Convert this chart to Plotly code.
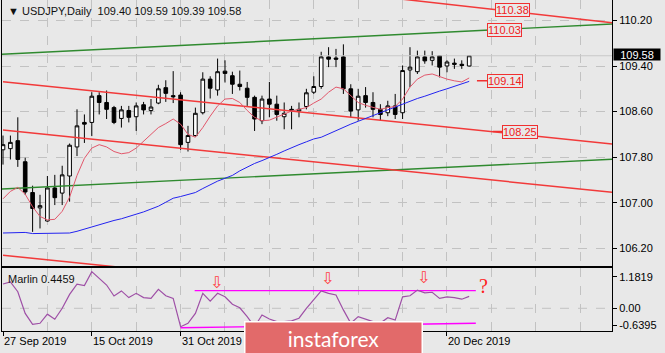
import plotly.graph_objects as go

# ---------------- data ----------------
opens = [107.93, 107.95, 108.09, 107.72, 107.18, 106.91, 106.68, 107.26, 107.17, 107.47,
         107.98, 108.41, 108.41, 108.88, 108.76, 108.67, 108.48, 108.62, 108.51, 108.72,
         108.62, 108.75, 109.02, 108.88, 108.89, 108.06, 108.18, 108.58, 109.17, 108.98,
         109.31, 109.23, 109.08, 109.01, 108.85, 108.44, 108.82, 108.73, 108.51, 108.64,
         108.61, 108.69, 108.94, 109.04, 109.56, 109.54, 109.56, 109.00, 108.63, 108.88,
         108.76, 108.64, 108.58, 108.70, 108.58, 109.33, 109.30, 109.56, 109.50, 109.58,
         109.40, 109.45, 109.43, 109.40]
highs = [108.18, 108.18, 108.50, 107.79, 107.30, 107.14, 107.47, 107.49, 107.65, 108.04,
         108.64, 108.55, 108.94, 108.94, 108.97, 108.70, 108.70, 108.70, 108.76, 108.77,
         108.82, 109.07, 109.15, 109.31, 108.94, 108.35, 108.67, 109.29, 109.22, 109.53,
         109.50, 109.30, 109.32, 109.12, 108.88, 108.88, 109.12, 108.88, 108.76, 108.70,
         108.76, 109.00, 109.22, 109.65, 109.73, 109.70, 109.78, 109.08, 109.00, 109.03,
         108.94, 108.73, 108.79, 108.91, 109.41, 109.73, 109.67, 109.67, 109.66, 109.59,
         109.50, 109.53, 109.50, 109.59]
lows = [107.67, 107.76, 107.63, 107.14, 106.49, 106.55, 106.67, 106.96, 106.96, 107.02,
        107.82, 108.05, 108.17, 108.55, 108.47, 108.38, 108.32, 108.41, 108.26, 108.55,
        108.55, 108.73, 108.77, 108.75, 107.93, 107.90, 108.16, 108.55, 108.83, 108.88,
        109.11, 108.91, 108.97, 108.70, 108.26, 108.38, 108.50, 108.44, 108.29, 108.29,
        108.50, 108.64, 108.91, 109.00, 109.38, 109.38, 108.91, 108.50, 108.44, 108.67,
        108.50, 108.44, 108.52, 108.47, 108.47, 109.03, 109.26, 109.44, 109.41, 109.20,
        109.29, 109.35, 109.35, 109.39]
closes = [108.02, 108.06, 107.76, 107.19, 106.90, 106.95, 107.26, 107.09, 107.49, 108.01,
          108.35, 108.38, 108.87, 108.76, 108.64, 108.41, 108.63, 108.50, 108.70, 108.63,
          108.68, 109.00, 108.92, 108.86, 108.02, 108.18, 108.57, 109.17, 109.01, 109.30,
          109.27, 109.08, 109.04, 108.85, 108.47, 108.82, 108.73, 108.55, 108.57, 108.61,
          108.64, 108.93, 109.04, 109.56, 109.52, 109.52, 109.00, 108.61, 108.87, 108.76,
          108.64, 108.55, 108.70, 108.55, 109.32, 109.38, 109.56, 109.49, 109.56, 109.38,
          109.47, 109.43, 109.41, 109.58]

ma_fast = [107.07, 107.20, 107.27, 107.15, 106.93, 106.76, 106.70, 106.71, 106.85, 107.10,
           107.48, 107.78, 107.96, 108.02, 107.98, 107.90, 107.86, 107.88, 107.96, 108.08,
           108.20, 108.32, 108.39, 108.47, 108.38, 108.20, 108.15, 108.32, 108.52, 108.70,
           108.82, 108.83, 108.76, 108.62, 108.50, 108.44, 108.45, 108.50, 108.55, 108.61,
           108.64, 108.67, 108.75, 108.82, 108.94, 109.03, 109.00, 108.88, 108.76, 108.71,
           108.67, 108.64, 108.67, 108.69, 108.82, 109.03, 109.17, 109.24, 109.26, 109.21,
           109.17, 109.14, 109.12, 109.19]
ma_slow = [106.47, 106.47, 106.48, 106.48, 106.46, 106.46, 106.46, 106.46, 106.47, 106.47,
           106.50, 106.54, 106.58, 106.62, 106.66, 106.69, 106.72, 106.76, 106.79, 106.84,
           106.89, 106.94, 107.01, 107.08, 107.11, 107.14, 107.18, 107.25, 107.32, 107.38,
           107.43, 107.48, 107.56, 107.63, 107.69, 107.74, 107.79, 107.85, 107.91, 107.97,
           108.02, 108.07, 108.12, 108.15, 108.21, 108.27, 108.33, 108.38, 108.43, 108.48,
           108.53, 108.59, 108.63, 108.68, 108.73, 108.78, 108.83, 108.87, 108.92, 108.96,
           109.00, 109.04, 109.08, 109.13]

marlin = [0.91, 0.99, 0.62, -0.19, -0.60, -0.56, -0.22, -0.41, 0.00, 0.52,
          0.90, 0.85, 1.37, 1.12, 0.87, 0.46, 0.65, 0.40, 0.56, 0.40,
          0.37, 0.71, 0.47, 0.37, -0.69, -0.56, -0.19, 0.56, 0.27, 0.56,
          0.43, 0.15, 0.02, -0.31, -0.69, -0.25, -0.40, -0.50, -0.50, -0.47,
          -0.37, 0.00, 0.31, 0.65, 0.56, 0.50, -0.06, -0.56, -0.31, -0.41,
          -0.50, -0.55, -0.35, -0.44, 0.43, 0.47, 0.68, 0.58, 0.60, 0.37,
          0.43, 0.40, 0.34, 0.4459]

# trend lines: [x0, y0, x1, y1] in bar index / price
red_lines = [[50.0, 110.63, 82.3, 110.16],
             [0.0, 109.125, 82.3, 108.032],
             [0.0, 108.277, 82.3, 107.184],
             [0.0, 106.079, 82.3, 104.986]]
green_lines = [[-0.2, 109.605, 82.3, 110.137],
               [-0.2, 107.242, 82.3, 107.763]]
marlin_levels = [[25.9, 0.66, 63.9, 0.66],
                 [24.0, -0.73, 63.9, -0.56]]

price_ticks = [110.20, 109.40, 108.60, 107.80, 107.00, 106.20]
marlin_ticks = [1.1819, 0.0, -0.6395]
marlin_ticktext = ["1.1819", "0.00", "-0.6395"]
tick_pos = [0, 12, 24, 36, 48, 60]
# labels at 36 and 48 are hidden behind the logo in the reference
date_pos = [0, 12, 24, 60]
date_text = ["27 Sep 2019", "15 Oct 2019", "31 Oct 2019", "20 Dec 2019"]

level_labels = ["110.38", "110.03"]
level_label_x = [68.8, 67.8]
leader_labels = ["109.14", "108.25"]
leader_x = [64.05, 66.2]
leader_shift = [28, 27]

signal_x = [28.8, 43.8, 56.8]
signal_y = [0.95, 1.13, 1.17]

# ---------------- style ----------------
BG = "#E8E8E8"
GRID = "#C2C2C2"
FONT = "Liberation Sans, Arial, sans-serif"
W, H = 665, 353
XR = [-0.135, 82.3]

idx = list(range(len(opens)))
fig = go.Figure()

fig.add_trace(go.Candlestick(
    x=idx, open=opens, high=highs, low=lows, close=closes,
    increasing=dict(line=dict(color="#000000", width=1), fillcolor="#FFFFFF"),
    decreasing=dict(line=dict(color="#000000", width=1), fillcolor="#000000"),
    whiskerwidth=0, xaxis="x", yaxis="y", hoverinfo="skip", showlegend=False))

# bid line
fig.add_trace(go.Scatter(x=XR, y=[closes[-1]] * 2, mode="lines",
                         line=dict(color="#C9C9C9", width=1), xaxis="x", yaxis="y", hoverinfo="skip"))

for ln in green_lines:
    fig.add_trace(go.Scatter(x=[ln[0], ln[2]], y=[ln[1], ln[3]], mode="lines",
                             line=dict(color="#2F8A2F", width=1.4), xaxis="x", yaxis="y", hoverinfo="skip"))
for ln in red_lines:
    fig.add_trace(go.Scatter(x=[ln[0], ln[2]], y=[ln[1], ln[3]], mode="lines",
                             line=dict(color="#F23A3A", width=1.5), xaxis="x", yaxis="y", hoverinfo="skip"))

fig.add_trace(go.Scatter(x=idx, y=ma_slow, mode="lines", line=dict(color="#2323F0", width=1),
                         xaxis="x", yaxis="y", hoverinfo="skip"))
fig.add_trace(go.Scatter(x=idx, y=ma_fast, mode="lines", line=dict(color="#E2576B", width=1),
                         xaxis="x", yaxis="y", hoverinfo="skip"))

# lower panel
for ln in marlin_levels:
    fig.add_trace(go.Scatter(x=[ln[0], ln[2]], y=[ln[1], ln[3]], mode="lines",
                             line=dict(color="#FF00FF", width=1.4), xaxis="x2", yaxis="y2", hoverinfo="skip"))
fig.add_trace(go.Scatter(x=idx, y=marlin, mode="lines", line=dict(color="#9E4FA6", width=1.2),
                         xaxis="x2", yaxis="y2", hoverinfo="skip"))

fig.add_shape(type="line", xref="x2 domain", x0=0, x1=1, yref="y2", y0=0, y1=0,
              line=dict(color=GRID, width=1, dash="dash"), layer="below")

ann = []
# header
ann.append(dict(text=f"▼ USDJPY,Daily  {opens[-1]:.2f} {highs[-1]:.2f} {lows[-1]:.2f} {closes[-1]:.2f}",
                xref="paper", yref="paper", x=6 / W, y=1 - 11 / H, xanchor="left", yanchor="middle",
                showarrow=False, font=dict(size=11, color="#111111", family=FONT)))
ann.append(dict(text=f"Marlin {marlin[-1]:.4f}", xref="paper", yref="paper", x=6 / W, y=1 - 279 / H,
                xanchor="left", yanchor="middle", showarrow=False,
                font=dict(size=11, color="#111111", family=FONT)))
# dates
for p, t in zip(date_pos, date_text):
    ann.append(dict(text=t, xref="x2", yref="paper", x=p, y=1 - 341 / H, xanchor="left",
                    yanchor="middle", showarrow=False, xshift=-1,
                    font=dict(size=11, color="#000000", family=FONT)))
# level labels
for t, xx in zip(level_labels, level_label_x):
    ann.append(dict(text=t, xref="x", yref="y", x=xx, y=float(t), xanchor="center", yanchor="middle",
                    showarrow=False, bgcolor=BG, bordercolor="#F03030", borderwidth=1, borderpad=0,
                    font=dict(size=11, color="#F02020", family=FONT)))
for t, xx, sh in zip(leader_labels, leader_x, leader_shift):
    ann.append(dict(text=t, xref="x", yref="y", x=xx, y=float(t), ax=sh, ay=0,
                    showarrow=True, arrowhead=0, arrowwidth=1.5, arrowcolor="#F03030",
                    bgcolor=BG, bordercolor="#F03030", borderwidth=1, borderpad=0,
                    font=dict(size=11, color="#F02020", family=FONT)))
# last price box
ann.append(dict(text=f"{closes[-1]:.2f}", xref="paper", yref="y", x=613 / W, y=closes[-1],
                xanchor="left", yanchor="middle", showarrow=False, bgcolor="#000000",
                width=46, height=11, borderpad=0, yshift=1,
                font=dict(size=11, color="#FFFFFF", family=FONT)))
# signals
for xx, yy in zip(signal_x, signal_y):
    ann.append(dict(text="⇩", xref="x2", yref="y2", x=xx, y=yy, showarrow=False,
                    font=dict(size=16, color="#FF4040", family="DejaVu Sans")))
ann.append(dict(text="?", xref="x2", yref="y2", x=64.9, y=0.84, showarrow=False,
                font=dict(size=20, color="#FF2020", family="Liberation Serif")))
# logo
ann.append(dict(text="instaforex", xref="paper", yref="paper", x=333 / W, y=1 - 338 / H,
                xanchor="center", yanchor="middle", showarrow=False, width=176, height=31,
                bgcolor="#E26A6A", bordercolor="#FFFFFF", borderwidth=1.5, borderpad=0,
                font=dict(size=21, color="#FFFFFF", family="Lato")))

fig.update_layout(
    width=W, height=H, margin=dict(l=0, r=0, t=0, b=0),
    paper_bgcolor=BG, plot_bgcolor=BG, showlegend=False,
    font=dict(family=FONT, size=11, color="#000000"),
    annotations=ann,
    xaxis=dict(domain=[2 / W, 612 / W], range=XR, anchor="y", rangeslider=dict(visible=False),
               tickmode="array", tickvals=list(range(0, 84, 6)), showticklabels=False, ticks="",
               showgrid=True, gridcolor=GRID, griddash="dash", gridwidth=1, zeroline=False,
               showline=True, mirror=True, linecolor="#000000", linewidth=1),
    yaxis=dict(domain=[1 - 266 / H, 1], range=[105.891, 110.558], anchor="x", side="right",
               tickmode="array", tickvals=price_ticks, ticktext=[f"{v:.2f}" for v in price_ticks],
               ticks="outside", ticklen=4, tickcolor="#000000",
               showgrid=True, gridcolor=GRID, griddash="dash", gridwidth=1, zeroline=False,
               showline=True, mirror=True, linecolor="#000000", linewidth=1,
               tickfont=dict(size=11, family=FONT, color="#000000")),
    xaxis2=dict(domain=[2 / W, 612 / W], range=XR, anchor="y2", matches="x",
                tickmode="array", tickvals=tick_pos, showticklabels=False,
                ticks="outside", ticklen=4, tickcolor="#000000",
                showgrid=True, gridcolor=GRID, griddash="dash", gridwidth=1, zeroline=False,
                minor=dict(tickmode="linear", tick0=0, dtick=6, showgrid=True, gridcolor=GRID,
                           griddash="dash", ticks=""),
                showline=True, mirror=True, linecolor="#000000", linewidth=1),
    yaxis2=dict(domain=[1 - 331 / H, 1 - 268 / H], range=[-0.849, 1.507], anchor="x2", side="right",
                tickmode="array", tickvals=marlin_ticks, ticktext=marlin_ticktext,
                ticks="outside", ticklen=4, tickcolor="#000000",
                showgrid=False, zeroline=False,
                showline=True, mirror=True, linecolor="#000000", linewidth=1,
                tickfont=dict(size=11, family=FONT, color="#000000")),
)

fig.write_html("out.html")
